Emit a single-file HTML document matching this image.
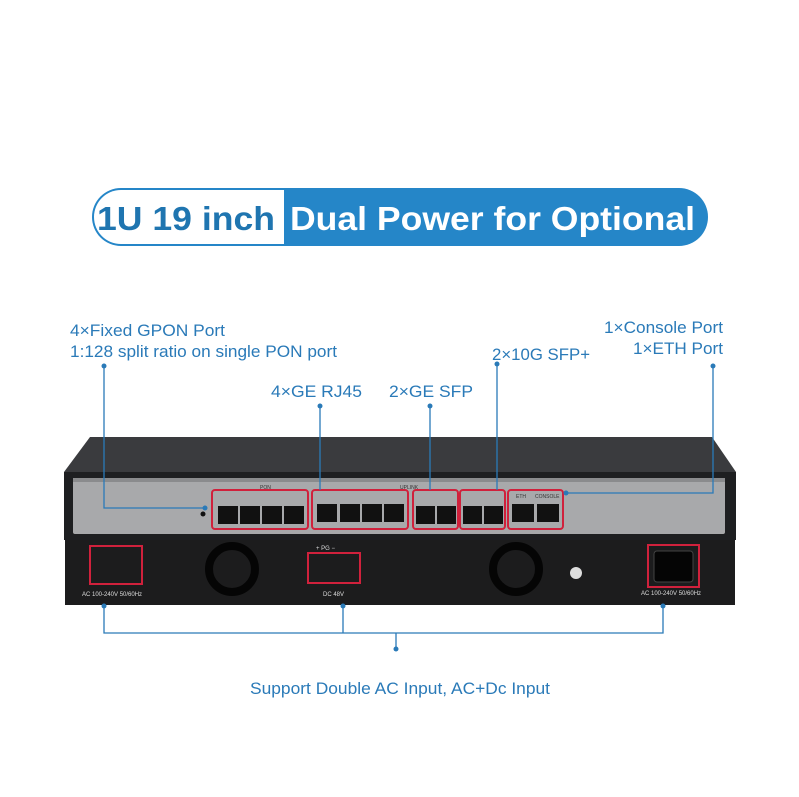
<!DOCTYPE html>
<html><head><meta charset="utf-8"><style>
body{margin:0;background:#fff;}
svg{display:block;font-family:"Liberation Sans",Arial,sans-serif;}
</style></head><body>
<svg width="799" height="797" viewBox="0 0 799 797" xmlns="http://www.w3.org/2000/svg">
<rect width="799" height="797" fill="#fff"/>
<!-- title pill -->
<rect x="92" y="188" width="616" height="58" rx="29" fill="#2586c8"/>
<path d="M121,190 H284 V244 H121 A27,27 0 0 1 121,190 Z" fill="#fff"/>
<text x="97" y="230" font-size="33" font-weight="bold" fill="#1f75b0" textLength="178" lengthAdjust="spacingAndGlyphs">1U 19 inch</text>
<text x="290" y="230" font-size="33" font-weight="bold" fill="#fff" textLength="405" lengthAdjust="spacingAndGlyphs">Dual Power for Optional</text>

<!-- labels -->
<g fill="#2a7ab8" font-size="16.5">
<text x="70" y="336" textLength="155" lengthAdjust="spacingAndGlyphs">4×Fixed GPON Port</text>
<text x="70" y="357" textLength="267" lengthAdjust="spacingAndGlyphs">1:128 split ratio on single PON port</text>
<text x="271" y="397" textLength="91" lengthAdjust="spacingAndGlyphs">4×GE RJ45</text>
<text x="389" y="397" textLength="84" lengthAdjust="spacingAndGlyphs">2×GE SFP</text>
<text x="492" y="360" textLength="98" lengthAdjust="spacingAndGlyphs">2×10G SFP+</text>
<text x="604" y="333" textLength="119" lengthAdjust="spacingAndGlyphs">1×Console Port</text>
<text x="633" y="354" textLength="90" lengthAdjust="spacingAndGlyphs">1×ETH Port</text>
<text x="250" y="694" textLength="300" lengthAdjust="spacingAndGlyphs">Support Double AC Input, AC+Dc Input</text>
</g>

<!-- device top -->
<path d="M90,437 H712 L736,472 H64 Z" fill="#3a3b3e"/>
<path d="M64,472 H736 V540 H64 Z" fill="#1e1f21"/>
<rect x="73" y="478" width="652" height="56" rx="2" fill="#a8a9ab"/>
<rect x="73" y="478" width="652" height="4" fill="#8a8b8d"/>
<g fill="none" stroke="#d0213c" stroke-width="2">
<rect x="212" y="490" width="96" height="39" rx="3"/>
<rect x="312" y="490" width="96" height="39" rx="3"/>
<rect x="413" y="490" width="45" height="39" rx="3"/>
<rect x="460" y="490" width="45" height="39" rx="3"/>
<rect x="508" y="490" width="55" height="39" rx="3"/>
</g>
<g fill="#111">
<rect x="218" y="506" width="20" height="18"/><rect x="240" y="506" width="20" height="18"/><rect x="262" y="506" width="20" height="18"/><rect x="284" y="506" width="20" height="18"/>
<rect x="317" y="504" width="20" height="18"/><rect x="340" y="504" width="20" height="18"/><rect x="362" y="504" width="20" height="18"/><rect x="384" y="504" width="20" height="18"/>
<rect x="416" y="506" width="19" height="18"/><rect x="437" y="506" width="19" height="18"/>
<rect x="463" y="506" width="19" height="18"/><rect x="484" y="506" width="19" height="18"/>
<rect x="512" y="504" width="22" height="18"/><rect x="537" y="504" width="22" height="18"/>
<circle cx="203" cy="514" r="2.5"/>
</g>
<text x="260" y="489" font-size="5" fill="#333">PON</text>
<text x="400" y="489" font-size="5" fill="#333">UPLINK</text>
<text x="516" y="498" font-size="5" fill="#333">ETH</text>
<text x="535" y="498" font-size="5" fill="#333">CONSOLE</text>

<!-- rear unit -->
<rect x="65" y="540" width="670" height="65" fill="#1c1c1d"/>
<g fill="none" stroke="#d0213c" stroke-width="2">
<rect x="90" y="546" width="52" height="38"/>
<rect x="308" y="553" width="52" height="30"/>
<rect x="648" y="545" width="51" height="42"/>
</g>
<rect x="654" y="551" width="39" height="31" rx="3" fill="#050505" stroke="#444"/>
<g fill="none" stroke="#050505" stroke-width="8">
<circle cx="232" cy="569" r="23"/><circle cx="516" cy="569" r="23"/>
</g>
<circle cx="576" cy="573" r="6" fill="#ddd"/>
<g fill="#ddd" font-size="6">
<text x="82" y="596">AC 100-240V 50/60Hz</text>
<text x="323" y="596">DC 48V</text>
<text x="316" y="550">+ PG −</text>
<text x="641" y="595">AC 100-240V 50/60Hz</text>
</g>

<!-- connectors -->
<g fill="none" stroke="#2a7ab8" stroke-width="1.3">
<polyline points="104,366 104,508 205,508"/>
<line x1="320" y1="406" x2="320" y2="490"/>
<line x1="430" y1="406" x2="430" y2="490"/>
<line x1="497" y1="364" x2="497" y2="490"/>
<polyline points="713,366 713,493 566,493"/>
<polyline points="104,606 104,633 663,633 663,606"/>
<line x1="343" y1="606" x2="343" y2="633"/>
<line x1="396" y1="633" x2="396" y2="649"/>
</g>
<g fill="#2a7ab8">
<circle cx="104" cy="366" r="2.5"/><circle cx="320" cy="406" r="2.5"/><circle cx="430" cy="406" r="2.5"/>
<circle cx="497" cy="364" r="2.5"/><circle cx="713" cy="366" r="2.5"/>
<circle cx="205" cy="508" r="2.5"/><circle cx="566" cy="493" r="2.5"/>
<circle cx="104" cy="606" r="2.5"/><circle cx="343" cy="606" r="2.5"/><circle cx="663" cy="606" r="2.5"/>
<circle cx="396" cy="649" r="2.5"/>
</g>
</svg>
</body></html>
